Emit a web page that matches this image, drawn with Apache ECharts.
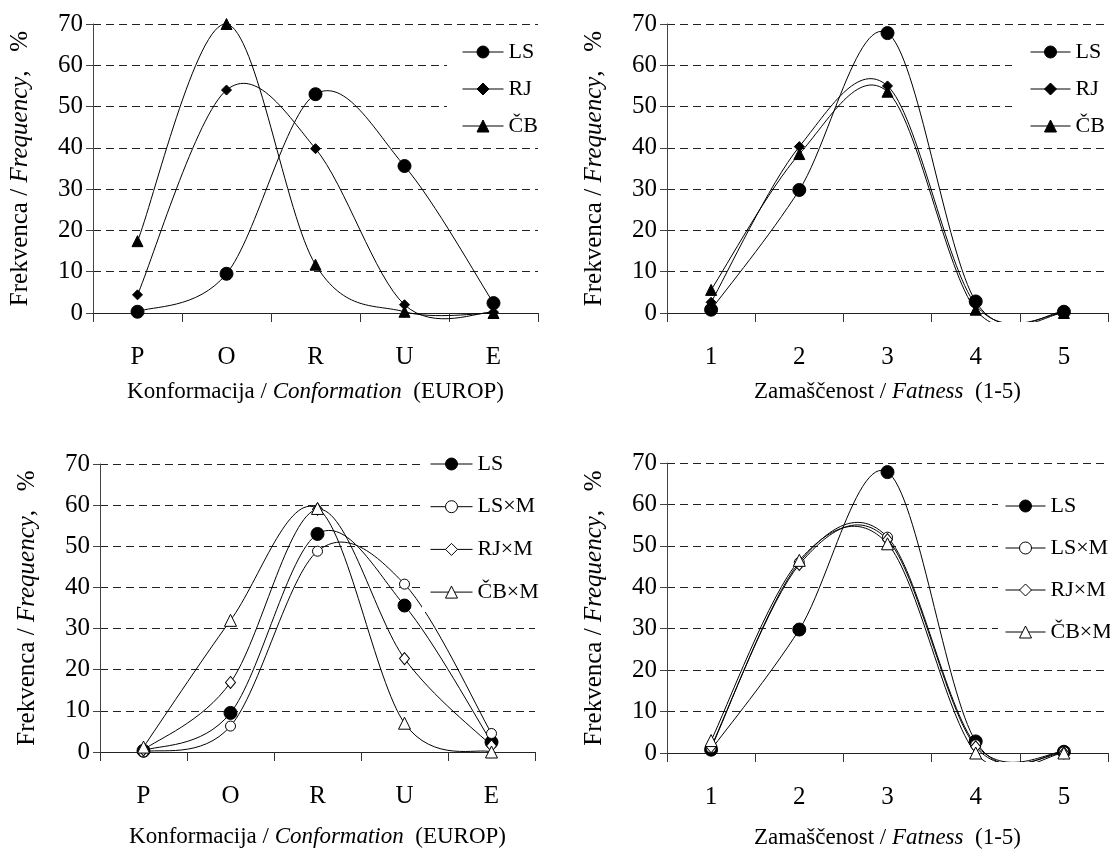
<!DOCTYPE html>
<html>
<head>
<meta charset="utf-8">
<script src="https://cdn.jsdelivr.net/npm/echarts@6/dist/echarts.min.js"></script>
<style>
html,body{margin:0;padding:0;background:#fff;}
#chart{width:1110px;height:850px;}
</style>
</head>
<body>
<div id="chart"></div>
<script>
// ---- data ----
const conformCats = ['P', 'O', 'R', 'U', 'E'];
const fatCats = ['1', '2', '3', '4', '5'];
const yTicks = [0, 10, 20, 30, 40, 50, 60, 70];

// purebreds (top panels)
const lsConf = [0.3, 9.5, 53, 35.6, 2.4];
const rjConf = [4.4, 54, 39.8, 2, 0.2];
const cbConf = [17.4, 70, 11.7, 0.3, 0];
const lsFat = [0.8, 29.8, 67.8, 2.8, 0.3];
const rjFat = [2.6, 40.3, 55, 2, 0];
const cbFat = [5.6, 38.5, 53.6, 0.8, 0];

// crossbreds (bottom panels)
const lsxmConf = [0, 6.3, 48.8, 40.8, 4.5];
const rjxmConf = [0.5, 16.9, 59, 22.7, 1.5];
const cbxmConf = [1.2, 32, 59.2, 7, 0];
const lsxmFat = [1.2, 46, 52.1, 2, 0.3];
const rjxmFat = [1.5, 45.5, 51.5, 1.5, 0];
const cbxmFat = [3, 46.5, 50.5, 0, 0];

const topNames = ['LS', 'RJ', 'ČB'];
const bottomNames = ['LS', 'LS×M', 'RJ×M', 'ČB×M'];

// ---- styling helpers ----
const FF = "'Liberation Serif', 'Times New Roman', serif";
const richStyles = {
  n: { fontFamily: FF, fontSize: 23, color: '#000' },
  i: { fontFamily: FF, fontSize: 23, color: '#000', fontStyle: 'italic' }
};
const richY = {
  n: { fontFamily: FF, fontSize: 25, color: '#000' },
  i: { fontFamily: FF, fontSize: 25, color: '#000', fontStyle: 'italic' }
};
const yName = '{n|Frekvenca / }{i|Frequency}{n|,   %}';
const confName = '{n|Konformacija / }{i|Conformation}{n|  (EUROP)}';
const fatName = '{n|Zamaščenost / }{i|Fatness}{n|  (1-5)}';

const grids = [
  { left: 93, top: 24, width: 445, height: 289 },
  { left: 667, top: 24, width: 441, height: 289 },
  { left: 100, top: 464, width: 435, height: 288 },
  { left: 667, top: 463, width: 441, height: 291 }
];

function xAxisFor(i, cats, name, gap) {
  return {
    type: 'category', gridIndex: i, data: cats, boundaryGap: true,
    axisLine: { show: true, lineStyle: { color: '#222', width: 1 } },
    axisTick: { show: true, interval: 0, length: 9, lineStyle: { color: '#333' } },
    axisLabel: { margin: 32, fontFamily: FF, fontSize: 25, color: '#000' },
    splitLine: { show: false },
    name: name, nameLocation: 'middle', nameGap: gap,
    nameTextStyle: { fontFamily: FF, fontSize: 23, color: '#000', rich: richStyles }
  };
}
function yAxisFor(i) {
  return {
    type: 'value', gridIndex: i, min: yTicks[0], max: yTicks[yTicks.length - 1], interval: 10,
    axisLine: { show: true, lineStyle: { color: '#444', width: 1 } },
    axisTick: { show: true, length: 7, lineStyle: { color: '#444' } },
    axisLabel: { margin: 10, fontFamily: FF, fontSize: 25, color: '#000' },
    splitLine: { show: true, lineStyle: { type: [8, 5], color: '#222', width: 1 } },
    name: yName, nameLocation: 'middle', nameGap: 60, nameRotate: 90,
    nameTextStyle: { fontFamily: FF, fontSize: 25, color: '#000', rich: richY }
  };
}

const symbolDefs = {
  'LS': { symbol: 'circle', size: 13, filled: true },
  'RJ': { symbol: 'diamond', size: 10, filled: true },
  'ČB': { symbol: 'triangle', size: 11, filled: true },
  'LS×M': { symbol: 'circle', size: 10, filled: false },
  'RJ×M': { symbol: 'diamond', size: [10, 12], filled: false },
  'ČB×M': { symbol: 'triangle', size: 12, filled: false }
};

// Smoothed (Catmull-Rom, spreadsheet-style) curve through the data points,
// positioned through the axes with api.coord.
function curve(values, gi) {
  return {
    type: 'custom', xAxisIndex: gi, yAxisIndex: gi, silent: true, z: 1,
    data: values.map((v, k) => [k, v]),
    renderItem: function (params, api) {
      const i = params.dataIndexInside;
      const n = params.dataInsideLength;
      if (i >= n - 1) return null;
      const pt = k => api.coord([api.value(0, k), api.value(1, k)]);
      const p0 = pt(Math.max(i - 1, 0)), p1 = pt(i), p2 = pt(i + 1), p3 = pt(Math.min(i + 2, n - 1));
      const cs = params.coordSys;
      return {
        type: 'bezierCurve',
        shape: {
          x1: p1[0], y1: p1[1], x2: p2[0], y2: p2[1],
          cpx1: p1[0] + (p2[0] - p0[0]) / 6, cpy1: p1[1] + (p2[1] - p0[1]) / 6,
          cpx2: p2[0] - (p3[0] - p1[0]) / 6, cpy2: p2[1] - (p3[1] - p1[1]) / 6
        },
        style: { stroke: '#000', lineWidth: 1, fill: null },
        clipPath: { type: 'rect', shape: { x: cs.x, y: cs.y - 6, width: cs.width, height: cs.height + 15 } }
      };
    }
  };
}

function marks(name, data, gi) {
  const d = symbolDefs[name];
  return {
    type: 'line', name: name, data: data, xAxisIndex: gi, yAxisIndex: gi,
    symbol: d.symbol, symbolSize: d.size, showSymbol: true, clip: false, z: 3,
    color: '#000',
    lineStyle: { color: '#000', width: 1, opacity: 0 },
    itemStyle: { color: d.filled ? '#000' : '#fff', borderColor: '#000', borderWidth: 1 },
    emphasis: { disabled: true }, silent: true
  };
}

function legendFor(names, box) {
  return {
    orient: 'vertical', left: box.left, top: box.top, padding: box.padding,
    itemWidth: box.itemWidth, itemHeight: 15, itemGap: box.gap,
    backgroundColor: '#fff', selectedMode: false, z: 6,
    textStyle: { fontFamily: FF, fontSize: 22, color: '#000' },
    data: names.map(n => ({
      name: n,
      itemStyle: { color: symbolDefs[n].filled ? '#000' : '#fff', borderColor: '#000', borderWidth: 1, opacity: 1 },
      lineStyle: { color: '#000', width: 1, opacity: 1, type: 'solid' }
    }))
  };
}

const panels = [
  { gi: 0, sets: [['LS', lsConf], ['RJ', rjConf], ['ČB', cbConf]] },
  { gi: 1, sets: [['LS', lsFat], ['RJ', rjFat], ['ČB', cbFat]] },
  { gi: 2, sets: [['LS', lsConf], ['LS×M', lsxmConf], ['RJ×M', rjxmConf], ['ČB×M', cbxmConf]] },
  { gi: 3, sets: [['LS', lsFat], ['LS×M', lsxmFat], ['RJ×M', rjxmFat], ['ČB×M', cbxmFat]] }
];
const series = [];
panels.forEach(p => p.sets.forEach(s => series.push(curve(s[1], p.gi))));
panels.forEach(p => p.sets.forEach(s => series.push(marks(s[0], s[1], p.gi))));

const option = {
  animation: false,
  backgroundColor: '#fff',
  grid: grids,
  xAxis: [
    xAxisFor(0, conformCats, confName, 67),
    xAxisFor(1, fatCats, fatName, 67),
    xAxisFor(2, conformCats, confName, 73),
    xAxisFor(3, fatCats, fatName, 73)
  ],
  yAxis: [yAxisFor(0), yAxisFor(1), yAxisFor(2), yAxisFor(3)],
  legend: [
    legendFor(topNames, { left: 447, top: 30, padding: [11, 5, 8, 15], itemWidth: 41, gap: 15 }),
    legendFor(topNames, { left: 1012, top: 30, padding: [11, 2, 8, 18], itemWidth: 40, gap: 15 }),
    legendFor(bottomNames, { left: 422, top: 448, padding: [5, 3, 9, 8], itemWidth: 42, gap: 20.7 }),
    legendFor(bottomNames, { left: 998, top: 476, padding: [19, 2, 15, 7], itemWidth: 40, gap: 20 })
  ],
  series: series
};

const chart = echarts.init(document.getElementById('chart'), null, { renderer: 'canvas' });
chart.setOption(option);
</script>
</body>
</html>
